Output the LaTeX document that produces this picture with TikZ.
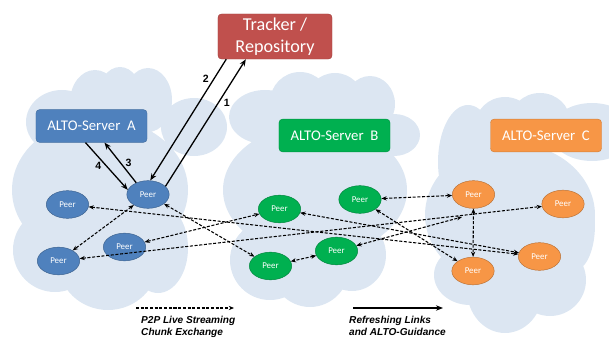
\documentclass[tikz,border=0pt]{standalone}
\usepackage{fontspec}
\setmainfont{Carlito}
\newfontfamily\legendfont{Liberation Sans}
\usetikzlibrary{arrows.meta,shapes.geometric}

\definecolor{cloudblue}{HTML}{DCE6F2}
\definecolor{altoA}{HTML}{4F81BD}
\definecolor{altoB}{HTML}{00B050}
\definecolor{altoC}{HTML}{F79646}
\definecolor{trackred}{HTML}{C0504D}

\tikzset{
  server/.style={rectangle, rounded corners=3pt, fill=#1, draw=#1!85!black, line width=0.4pt,
    minimum width=3.33cm, minimum height=0.98cm, text=white, inner sep=0pt,
    font=\fontsize{12.6}{14}\selectfont},
  peer/.style={ellipse, fill=#1, draw=#1!75!black, line width=0.4pt,
    minimum width=1.27cm, minimum height=0.83cm, text=white, inner sep=0pt,
    font=\fontsize{7.6}{8}\selectfont},
  chunk/.style={dashed, dash pattern=on 2.6pt off 1.4pt, line width=0.9pt,
    {Stealth[length=4.5pt,width=3.6pt]}-{Stealth[length=4.5pt,width=3.6pt]}},
  refresh/.style={line width=1.1pt, -{Stealth[length=6pt,width=4.6pt]}},
  numlabel/.style={font=\legendfont\bfseries\fontsize{9}{10}\selectfont, inner sep=1pt},
  legendtext/.style={font=\legendfont\bfseries\itshape\fontsize{8.6}{10.4}\selectfont,
    align=left, anchor=north west, inner sep=0pt},
}

\begin{document}
\begin{tikzpicture}[x=0.03cm, y=-0.03cm]
\useasboundingbox (0,0) rectangle (609,339);

% clouds
\begin{scope}
\clip (0,0) rectangle (609,339);
\fill[cloudblue] (62,122) ellipse [x radius=36, y radius=32] % cloud A
  (95,102) ellipse [x radius=25, y radius=32]
  (120,97) ellipse [x radius=22, y radius=30]
  (148,100) ellipse [x radius=24, y radius=32]
  (194,127) ellipse [x radius=33, y radius=29]
  (100,190) ellipse [x radius=88, y radius=72]
  (55,250) ellipse [x radius=42, y radius=42]
  (108,262) ellipse [x radius=50, y radius=48]
  (158,248) ellipse [x radius=30, y radius=45];
\fill[cloudblue] (265,117) ellipse [x radius=36, y radius=27] % cloud B
  (300,102) ellipse [x radius=30, y radius=30]
  (335,100) ellipse [x radius=28, y radius=27]
  (370,104) ellipse [x radius=25, y radius=28]
  (394,135) ellipse [x radius=26, y radius=21]
  (315,190) ellipse [x radius=92, y radius=66]
  (270,260) ellipse [x radius=40, y radius=40]
  (310,265) ellipse [x radius=40, y radius=42]
  (352,255) ellipse [x radius=34, y radius=36];
\fill[cloudblue] (468,162) ellipse [x radius=30, y radius=57] % cloud C
  (505,126) ellipse [x radius=30, y radius=29]
  (540,121) ellipse [x radius=30, y radius=28]
  (592,132) ellipse [x radius=42, y radius=29]
  (510,215) ellipse [x radius=85, y radius=72]
  (470,275) ellipse [x radius=36, y radius=30]
  (505,290) ellipse [x radius=38, y radius=43]
  (550,280) ellipse [x radius=36, y radius=36]
  (575,225) ellipse [x radius=20, y radius=45];
\end{scope}

% servers and tracker
\draw (275,36.5) node[server=trackred, minimum width=3.42cm, minimum height=1.35cm,
  font=\fontsize{15.5}{18.5}\selectfont, align=center] (trk) {Tracker /\\Repository};
\draw (91.5,126) node[server=altoA] (sa) {ALTO-Server\ \ A};
\draw (334.5,135.5) node[server=altoB] (sb) {ALTO-Server\ \ B};
\draw (546,135.5) node[server=altoC] (sc) {ALTO-Server\ \ C};

% peers in cloud A
\draw (148,194.5) node[peer=altoA] (pa1) {Peer};
\draw (67.5,204.5) node[peer=altoA] (pa2) {Peer};
\draw (124.5,247) node[peer=altoA] (pa3) {Peer};
\draw (58.5,261) node[peer=altoA] (pa4) {Peer};
% peers in cloud B
\draw (279.5,209) node[peer=altoB] (pb1) {Peer};
\draw (360,199.5) node[peer=altoB] (pb2) {Peer};
\draw (336.5,251) node[peer=altoB] (pb3) {Peer};
\draw (270.5,266) node[peer=altoB] (pb4) {Peer};
% peers in cloud C
\draw (473.5,194.5) node[peer=altoC] (pc1) {Peer};
\draw (563,204) node[peer=altoC] (pc2) {Peer};
\draw (539.5,256.5) node[peer=altoC] (pc3) {Peer};
\draw (473,271) node[peer=altoC] (pc4) {Peer};
\coordinate (pc1foot) at (462,217);

% tracker and ALTO requests
\draw[refresh] (pa1.25) -- node[numlabel, pos=0.66, right=3pt] {1} (trk.218);
\draw[refresh] (trk.205) -- node[numlabel, pos=0.16, left=3pt] {2} (pa1.81);
\draw[refresh] (pa1.135) -- node[numlabel, pos=0.5, right=3pt] {3} (sa.-52);
\draw[refresh] (sa.-110) -- node[numlabel, pos=0.5, left=3pt] {4} (pa1.167);

% chunk exchange
\draw[chunk] (pa2) -- (pc3);
\draw[chunk] (pa4) -- (pc2);
\draw[chunk] (pa1) -- (pa4);
\draw[chunk] (pa1) -- (pb4);
\draw[chunk] (pa3) -- (pb1);
\draw[chunk] (pb1) -- (pc3);
\draw[chunk] (pb2) -- (pc1);
\draw[chunk] (pb2) -- (pc4);
\draw[chunk] (pc1) -- (pc4);
\draw[chunk] (pb3) -- (pc1foot);
\draw[chunk] (pb3) -- (pb4);

% legend
\coordinate (lg1a) at (136,308);
\coordinate (lg1b) at (234,308);
\coordinate (lg2a) at (353,308);
\coordinate (lg2b) at (443,308);
\draw[dashed, dash pattern=on 2.6pt off 1.4pt, line width=0.9pt, -{Stealth[length=4.5pt,width=3.6pt]}] (lg1a) -- (lg1b);
\draw[refresh, line width=0.9pt] (lg2a) -- (lg2b);
\draw (141,316) node[legendtext] (lgt1) {P2P Live Streaming\\Chunk Exchange};
\draw (349,316) node[legendtext] (lgt2) {Refreshing Links\\and ALTO-Guidance};
\end{tikzpicture}
\end{document}
